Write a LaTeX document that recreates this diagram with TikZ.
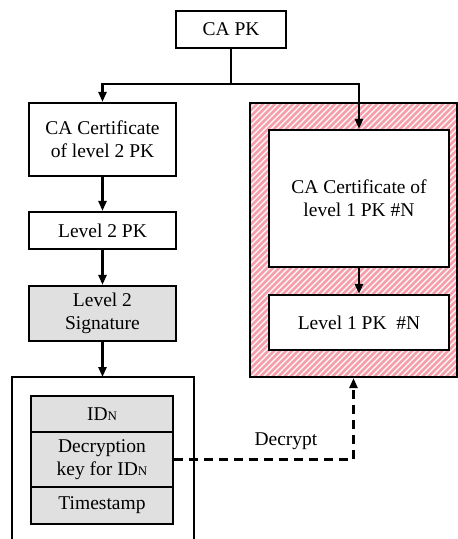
\documentclass[tikz,border=0pt]{standalone}
\usepackage{fontspec}
\setmainfont{Liberation Serif}
\newfontfamily\labelfont{Liberation Serif}
\usetikzlibrary{arrows.meta}
\definecolor{hatchpink}{RGB}{246,158,170}
\definecolor{cellgray}{RGB}{224,224,224}
\tikzset{
  txt/.style={font=\labelfont\fontsize{19.5}{23}\selectfont},
  box/.style={draw, line width=2.2pt, inner sep=0pt, align=center, txt},
  graybox/.style={box, fill=cellgray},
  flow/.style={line width=2.4pt, -{Triangle[length=10pt,width=8pt]}},
  link/.style={line width=2.4pt},
  dflow/.style={line width=2.4pt, dash pattern=on 9pt off 6pt, -{Triangle[length=10pt,width=8pt]}},
}
\newcommand{\subN}{\raisebox{-0.5pt}{\fontsize{13}{13}\selectfont N}}
\begin{document}
\begin{tikzpicture}[x=1pt,y=-1pt]
\useasboundingbox (0,0) rectangle (458,539);

% hatched region holding the level 1 chain
\fill[hatchpink] (250,103) rectangle (457,377);
\begin{scope}
  \clip (250,103) rectangle (457,377);
  \foreach \k in {-60,-54,...,470}
    \draw[white, line width=1.2pt] (\k,400) -- (\k+300,100);
\end{scope}
\node[draw, line width=2.2pt, minimum width=207pt, minimum height=274pt, inner sep=0pt] (zone) at (353.5,240) {};

% left container (open at the bottom)
\draw[line width=2.2pt] (12,539) -- (12,377) -- (194,377) -- (194,539);
\coordinate (conttop) at (102.5,377);

% nodes
\node[box, minimum width=110pt, minimum height=37pt] (capk) at (231,29.5) {CA PK};
\node[box, minimum width=147pt, minimum height=73pt] (cert2) at (102.5,139.5) {CA Certificate\\of level 2 PK};
\node[box, minimum width=147pt, minimum height=37pt] (lvl2) at (102.5,230.5) {Level 2 PK};
\node[graybox, minimum width=147pt, minimum height=55pt] (sig) at (102.5,313.5) {Level 2\\Signature};

\node[box, fill=white, minimum width=180pt, minimum height=137pt] (cert1) at (359,198.5) {CA Certificate of\\level 1 PK \#N};
\node[box, fill=white, minimum width=180pt, minimum height=55pt] (lvl1) at (359,322.5) {Level 1 PK\ \ \#N};

\node[graybox, minimum width=142pt, minimum height=36pt] (idn) at (102,414) {ID\subN};
\node[graybox, minimum width=142pt, minimum height=55pt] (dec) at (102,459.5) {Decryption\\key for ID\subN};
\node[graybox, minimum width=142pt, minimum height=37pt] (ts) at (102,505.5) {Timestamp};

% connectors
\coordinate (split) at (231,84);
\draw[link] (capk.south) -- (split);
\draw[flow] (split) -| (cert2.north);
\draw[flow] (split) -| (cert1.north);
\draw[flow] (cert2) -- (lvl2);
\draw[flow] (lvl2) -- (sig);
\draw[flow] (sig.south) -- (conttop);
\draw[flow] (cert1) -- (lvl1);
\draw[dflow] (dec.east) -| (zone.south);
\node[txt, anchor=base] (declabel) at (286,445) {Decrypt};
\end{tikzpicture}
\end{document}
